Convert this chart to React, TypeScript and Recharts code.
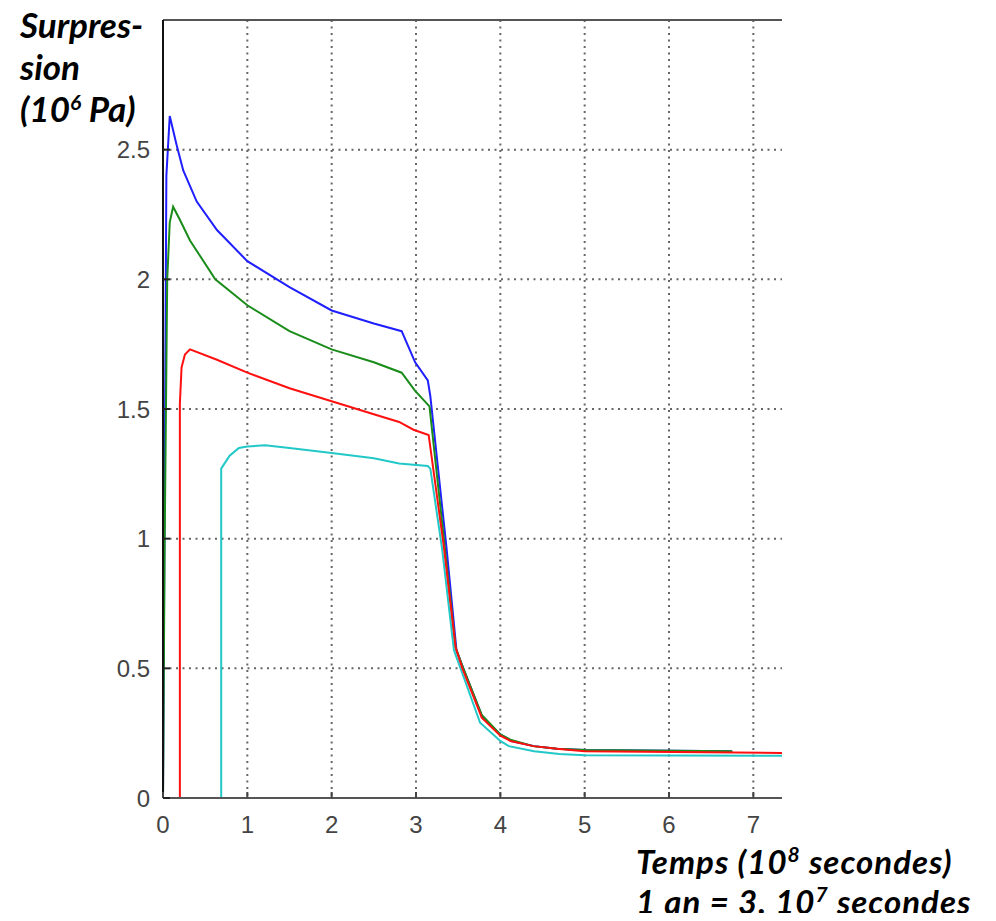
import React from "react";
import { LineChart, Line, XAxis, YAxis, CartesianGrid } from "recharts";

// time in 10^8 s, overpressure in 10^6 Pa
const blueT = [0, 0.04, 0.08, 0.16, 0.24, 0.4, 0.64, 1.0, 1.5, 2.0, 2.5, 2.83, 2.99, 3.14, 3.17, 3.36, 3.48, 3.56, 3.79, 4.0, 4.13, 4.4, 4.67, 5.0, 6.75];
const blueP = [0, 2.4, 2.63, 2.52, 2.42, 2.3, 2.19, 2.07, 1.97, 1.88, 1.83, 1.8, 1.68, 1.61, 1.55, 0.97, 0.57, 0.5, 0.31, 0.245, 0.22, 0.2, 0.19, 0.185, 0.18];

const greenT = [0, 0.02, 0.05, 0.08, 0.12, 0.2, 0.32, 0.62, 1.0, 1.5, 2.0, 2.5, 2.83, 2.99, 3.16, 3.34, 3.47, 3.55, 3.78, 4.0, 4.12, 4.39, 4.67, 5.0, 6.75];
const greenP = [0, 1.0, 2.0, 2.22, 2.28, 2.23, 2.15, 2.0, 1.9, 1.8, 1.73, 1.68, 1.64, 1.57, 1.51, 0.97, 0.58, 0.51, 0.32, 0.245, 0.225, 0.2, 0.19, 0.185, 0.18];

const redT = [0.2, 0.2, 0.22, 0.26, 0.32, 0.64, 1.0, 1.5, 2.0, 2.5, 2.8, 2.97, 3.15, 3.33, 3.47, 3.55, 3.78, 4.0, 4.12, 4.39, 4.67, 5.0, 7.34];
const redP = [0, 1.52, 1.66, 1.71, 1.73, 1.69, 1.64, 1.58, 1.53, 1.48, 1.45, 1.42, 1.4, 0.97, 0.58, 0.5, 0.31, 0.24, 0.22, 0.2, 0.19, 0.18, 0.174];

const cyanT = [0.69, 0.69, 0.79, 0.9, 1.0, 1.21, 1.5, 2.0, 2.5, 2.8, 3.14, 3.17, 3.31, 3.45, 3.55, 3.76, 4.0, 4.1, 4.4, 4.7, 5.0, 7.34];
const cyanP = [0, 1.27, 1.32, 1.35, 1.355, 1.36, 1.35, 1.33, 1.31, 1.29, 1.28, 1.27, 0.96, 0.57, 0.48, 0.29, 0.22, 0.2, 0.18, 0.17, 0.165, 0.163];

const xTicks = [0, 1, 2, 3, 4, 5, 6, 7];
const yTicks = [0, 0.5, 1, 1.5, 2, 2.5];

const toRows = (t: number[], p: number[]) => t.map((v, i) => ({ t: v, p: p[i] }));

const tickFont = { fontFamily: "Liberation Sans", fontSize: 24, fill: "#444" };

const BottomTick = ({ x, y, payload }: any) => (
  <g>
    <line x1={x} x2={x} y1={y} y2={y - 6} stroke="#444" strokeWidth={2} />
    <text x={x} y={y + 18} dy="0.71em" textAnchor="middle" {...tickFont}>
      {payload.value}
    </text>
  </g>
);

const TopTick = ({ x, y }: any) => (
  <line x1={x} x2={x} y1={y} y2={y + 7} stroke="#444" strokeWidth={2} />
);

const LeftTick = ({ x, y, payload }: any) => (
  <g>
    <line x1={x} x2={x + 7} y1={y} y2={y} stroke="#222" strokeWidth={2} />
    <text x={x - 13} y={y} dy="0.36em" textAnchor="end" {...tickFont}>
      {payload.value}
    </text>
  </g>
);

const labelStyle: React.CSSProperties = {
  position: "absolute",
  fontFamily: "Lato",
  fontStyle: "italic",
  fontWeight: 700,
  fontSize: 35,
  lineHeight: "42px",
  color: "#000",
  whiteSpace: "nowrap",
};

const supStyle: React.CSSProperties = { fontSize: 21, verticalAlign: "12px", lineHeight: 0 };

export default function App() {
  return (
    <div style={{ position: "relative", width: 996, height: 921, margin: -8, background: "#fff", overflow: "hidden" }}>
      <LineChart
        width={996}
        height={921}
        margin={{ top: 20, right: 214, left: 0, bottom: 83 }}
      >
        <CartesianGrid
          stroke="#666"
          strokeWidth={2}
          strokeDasharray="2 4.5"
          horizontalValues={yTicks}
          verticalValues={xTicks}
        />
        <XAxis
          dataKey="t"
          type="number"
          domain={[0, 7.34]}
          ticks={xTicks}
          allowDataOverflow
          height={40}
          tickSize={0}
          tickMargin={0}
          tickLine={false}
          axisLine={{ stroke: "#555", strokeWidth: 2 }}
          tick={<BottomTick />}
        />
        <XAxis
          xAxisId="top"
          orientation="top"
          mirror
          dataKey="t"
          type="number"
          domain={[0, 7.34]}
          ticks={xTicks}
          tickSize={0}
          tickMargin={0}
          tickLine={false}
          axisLine={{ stroke: "#555", strokeWidth: 2 }}
          tick={<TopTick />}
        />
        <YAxis
          type="number"
          domain={[0, 3]}
          ticks={yTicks}
          allowDataOverflow
          width={163}
          tickSize={0}
          tickMargin={0}
          tickLine={false}
          axisLine={{ stroke: "#111", strokeWidth: 2 }}
          tick={<LeftTick />}
        />
        <Line data={toRows(blueT, blueP)} dataKey="p" stroke="#1f1fff" strokeWidth={2} dot={false} isAnimationActive={false} />
        <Line data={toRows(greenT, greenP)} dataKey="p" stroke="#1a8c1a" strokeWidth={2} dot={false} isAnimationActive={false} />
        <Line data={toRows(cyanT, cyanP)} dataKey="p" stroke="#22c8c8" strokeWidth={2} dot={false} isAnimationActive={false} />
        <Line data={toRows(redT, redP)} dataKey="p" stroke="#ff1010" strokeWidth={2} dot={false} isAnimationActive={false} />
      </LineChart>

      <div style={{ ...labelStyle, left: 20, top: 3 }}>
        Surpres-
        <br />
        sion
        <br />
        (10<sup style={supStyle}>6</sup> Pa)
      </div>
      <div style={{ ...labelStyle, left: 636, top: 841, fontSize: 33, lineHeight: "40px", letterSpacing: 1 }}>
        Temps (10<sup style={supStyle}>8</sup> secondes)
        <br />
        1 an = 3. 10<sup style={supStyle}>7</sup> secondes
      </div>
    </div>
  );
}
